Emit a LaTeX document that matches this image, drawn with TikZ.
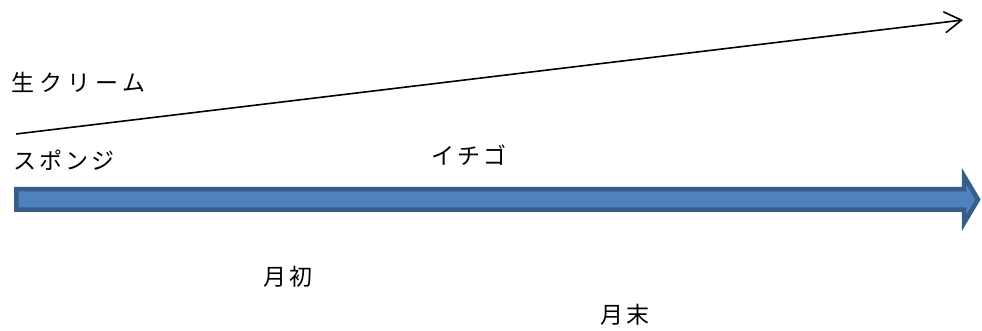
\documentclass[tikz,border=0pt]{standalone}
\usepackage{fontspec}
\newfontfamily\jp[LetterSpace=14]{Noto Sans CJK JP}
\newfontfamily\jpwide[LetterSpace=22]{Noto Sans CJK JP}
\usetikzlibrary{arrows.meta}
\definecolor{arrowfill}{HTML}{4F81BD}
\definecolor{arrowline}{HTML}{385D8A}
\tikzset{
  lbl/.style={anchor=west,inner sep=0pt,font=\jp\fontsize{23}{23}\selectfont},
  lblwide/.style={anchor=west,inner sep=0pt,font=\jpwide\fontsize{23}{23}\selectfont},
  thinarrow/.style={line width=1.6pt,-{Straight Barb[length=17pt,width=21pt,line width=1.6pt]}},
  bigarrow/.style={fill=arrowfill,draw=arrowline,line width=4.5pt,line join=miter}
}
\begin{document}
\begin{tikzpicture}[x=1pt,y=1pt]
\useasboundingbox (0,0) rectangle (982,331);
% thin arrow
\coordinate (ls) at (16,197);
\coordinate (le) at (963,311);
\draw[thinarrow] (ls) -- (le);
% big block arrow
\coordinate (a1) at (16.25,141.75);
\coordinate (a2) at (964,141.75);
\coordinate (a3) at (964,155);
\coordinate (a4) at (978,131.5);
\coordinate (a5) at (964,108);
\coordinate (a6) at (964,121.25);
\coordinate (a7) at (16.25,121.25);
\draw[bigarrow] (a1) -- (a2) -- (a3) -- (a4) -- (a5) -- (a6) -- (a7) -- cycle;
% labels
\node[lblwide] (cream) at (11,249) {生クリーム};
\node[lbl] (sponge) at (13,171) {スポンジ};
\node[lbl] (ichigo) at (431,176) {イチゴ};
\node[lbl] (tsuki1) at (263,54) {月初};
\node[lbl] (tsuki2) at (600,16) {月末};
\end{tikzpicture}
\end{document}
